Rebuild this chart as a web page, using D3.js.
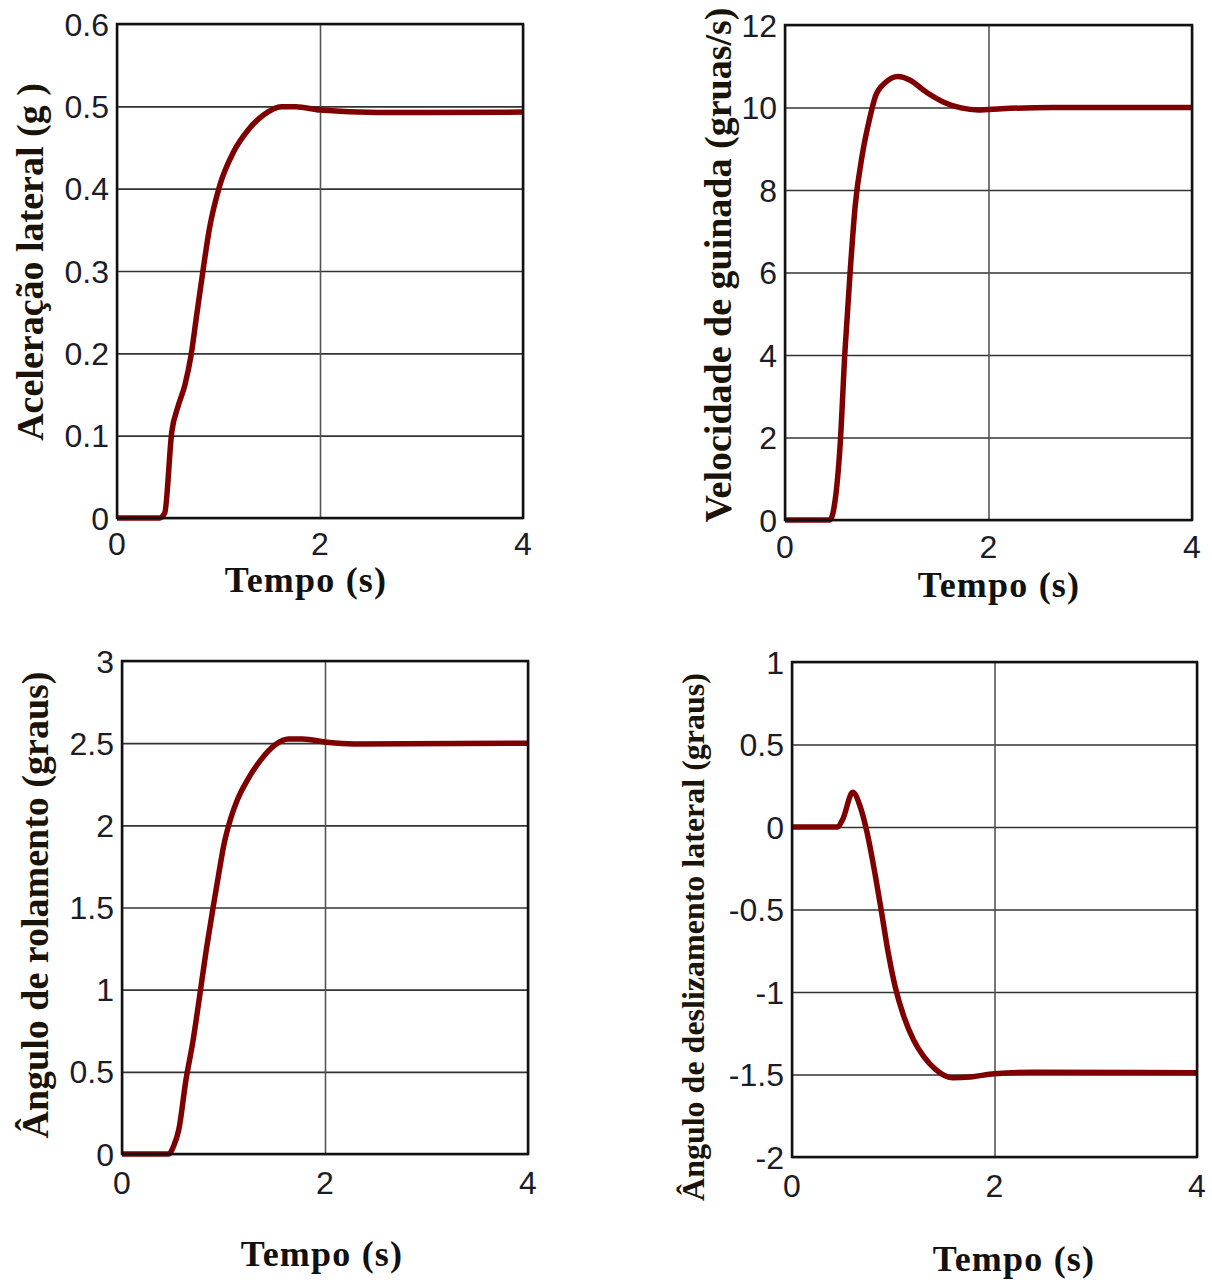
<!DOCTYPE html>
<html>
<head>
<meta charset="utf-8">
<script src="https://cdn.jsdelivr.net/npm/d3@7"></script>
<style>
  body { margin: 0; background: #fff; }
  svg { display: block; }
</style>
</head>
<body>
<script>
// DATA
var timeTicks = [0, 2, 4];

var tAcel = [0, 0.42, 0.47, 0.54, 0.6, 0.67, 0.73, 0.78, 0.85, 0.91, 1.01, 1.15, 1.29, 1.45, 1.62, 1.76, 2.0, 2.57, 4];
var acel  = [0, 0, 0.006, 0.105, 0.135, 0.162, 0.198, 0.242, 0.303, 0.351, 0.403, 0.445, 0.471, 0.49, 0.4995, 0.4995, 0.4955, 0.4925, 0.493];
var acelTicks = [0, 0.1, 0.2, 0.3, 0.4, 0.5, 0.6];

var tGuin = [0, 0.44, 0.49, 0.54, 0.59, 0.64, 0.69, 0.76, 0.83, 0.89, 0.99, 1.11, 1.23, 1.39, 1.56, 1.73, 1.9, 2.13, 2.63, 4];
var guin  = [0, 0, 0.43, 1.75, 4.12, 6.01, 7.62, 8.86, 9.71, 10.28, 10.61, 10.75, 10.66, 10.37, 10.13, 9.99, 9.94, 9.97, 10.0, 10.0];
var guinTicks = [0, 2, 4, 6, 8, 10, 12];

var tRol = [0, 0.46, 0.51, 0.56, 0.63, 0.7, 0.76, 0.83, 0.9, 0.96, 1.0, 1.07, 1.14, 1.24, 1.37, 1.51, 1.64, 1.78, 2.02, 2.29, 4];
var rol  = [0, 0, 0.05, 0.15, 0.45, 0.69, 0.94, 1.24, 1.51, 1.73, 1.87, 2.04, 2.16, 2.28, 2.4, 2.49, 2.525, 2.525, 2.505, 2.495, 2.5];
var rolTicks = [0, 0.5, 1, 1.5, 2, 2.5, 3];

var tDesl = [0, 0.45, 0.5, 0.6, 0.67, 0.74, 0.81, 0.88, 0.95, 1.02, 1.1, 1.2, 1.3, 1.42, 1.59, 1.76, 2.0, 2.37, 4];
var desl  = [0, 0, 0.045, 0.21, 0.13, -0.03, -0.25, -0.5, -0.76, -0.97, -1.14, -1.29, -1.39, -1.47, -1.52, -1.515, -1.495, -1.487, -1.49];
var deslTicks = [-2, -1.5, -1, -0.5, 0, 0.5, 1];

// SVG
var svg = d3.select("body").append("svg")
    .attr("width", 1212)
    .attr("height", 1280);

function drawPanel(p) {
    var x = d3.scaleLinear().domain([0, 4]).range([p.left, p.right]);
    var y = d3.scaleLinear().domain([p.ticks[0], p.ticks[p.ticks.length - 1]]).range([p.bottom, p.top]);
    var g = svg.append("g");

    // grid
    g.append("g")
        .attr("transform", "translate(" + p.left + ",0)")
        .call(d3.axisLeft(y).tickValues(p.ticks).tickSize(-(p.right - p.left)).tickFormat(""))
        .call(function(a) { a.select(".domain").remove(); })
        .selectAll("line").attr("stroke", "#333").attr("stroke-width", 1.6);
    g.append("g")
        .attr("transform", "translate(0," + p.bottom + ")")
        .call(d3.axisBottom(x).tickValues(timeTicks).tickSize(-(p.bottom - p.top)).tickFormat(""))
        .call(function(a) { a.select(".domain").remove(); })
        .selectAll("line").attr("stroke", "#555").attr("stroke-width", 1.6);

    // tick labels
    g.selectAll(".ylab").data(p.ticks).enter().append("text")
        .attr("x", p.left - 8)
        .attr("y", function(d) { return y(d); })
        .attr("dy", "0.36em")
        .attr("text-anchor", "end")
        .attr("font-family", "Liberation Sans, Arial, sans-serif")
        .attr("font-size", 32)
        .attr("fill", "#1c1c28")
        .text(function(d) { return d; });
    g.selectAll(".xlab").data(timeTicks).enter().append("text")
        .attr("x", function(d) { return x(d); })
        .attr("y", p.bottom + p.xlabOff)
        .attr("text-anchor", "middle")
        .attr("font-family", "Liberation Sans, Arial, sans-serif")
        .attr("font-size", 32)
        .attr("fill", "#1c1c28")
        .text(function(d) { return d; });

    // curve
    var pts = p.t.map(function(t, i) { return [t, p.v[i]]; });
    g.append("path")
        .datum(pts)
        .attr("fill", "none")
        .attr("stroke", "#7f0000")
        .attr("stroke-width", 5.5)
        .attr("stroke-linejoin", "round")
        .attr("d", d3.line()
            .x(function(d) { return x(d[0]); })
            .y(function(d) { return y(d[1]); })
            .curve(d3.curveMonotoneX));

    // box
    g.append("rect")
        .attr("x", p.left).attr("y", p.top)
        .attr("width", p.right - p.left).attr("height", p.bottom - p.top)
        .attr("fill", "none").attr("stroke", "#111").attr("stroke-width", 2.5);

    // axis titles
    g.append("text")
        .attr("x", p.xtX).attr("y", p.xtY)
        .attr("text-anchor", "middle")
        .attr("font-family", "Liberation Serif, Times New Roman, serif")
        .attr("font-weight", "bold")
        .attr("font-size", 36)
        .attr("letter-spacing", 1.2)
        .attr("fill", "#111")
        .text("Tempo (s)");
    g.append("text")
        .attr("transform", "translate(" + p.ytX + "," + p.ytY + ") rotate(-90)")
        .attr("text-anchor", "middle")
        .attr("font-family", "Liberation Serif, Times New Roman, serif")
        .attr("font-weight", "bold")
        .attr("font-size", p.ytSize)
        .attr("fill", "#1a1408")
        .text(p.yTitle);
}

drawPanel({t: tAcel, v: acel, ticks: acelTicks, left: 117, right: 523, top: 24, bottom: 518,
    xlabOff: 37, xtX: 306, xtY: 592, ytX: 43, ytY: 262, ytSize: 38, yTitle: "Aceleração lateral (g )"});
drawPanel({t: tGuin, v: guin, ticks: guinTicks, left: 785, right: 1192, top: 25, bottom: 520,
    xlabOff: 38, xtX: 999, xtY: 597, ytX: 731, ytY: 265, ytSize: 38, yTitle: "Velocidade de guinada (gruas/s)"});
drawPanel({t: tRol, v: rol, ticks: rolTicks, left: 122, right: 528, top: 661, bottom: 1154,
    xlabOff: 40, xtX: 322, xtY: 1266, ytX: 48, ytY: 905, ytSize: 38, yTitle: "Ângulo de rolamento (graus)"});
drawPanel({t: tDesl, v: desl, ticks: deslTicks, left: 792, right: 1197, top: 662, bottom: 1157,
    xlabOff: 40, xtX: 1014, xtY: 1271, ytX: 704, ytY: 937, ytSize: 32, yTitle: "Ângulo de deslizamento lateral (graus)"});
</script>
</body>
</html>
